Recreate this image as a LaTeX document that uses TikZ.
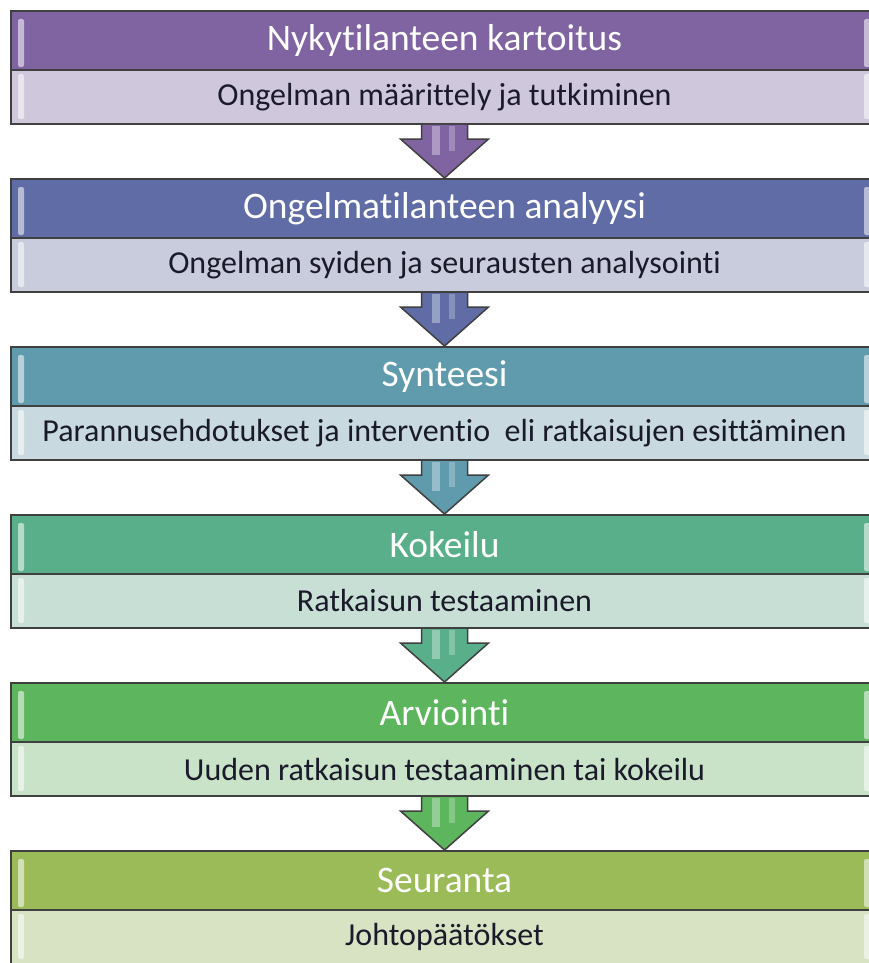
\documentclass[tikz,border=0pt]{standalone}
\usepackage{fontspec}
\setmainfont{Carlito}[Ligatures={NoCommon,NoContextual,NoRare}]
\usetikzlibrary{calc}

\definecolor{headA}{HTML}{8064A2}
\definecolor{subA}{HTML}{CFC7DC}
\definecolor{headB}{HTML}{5F6CA5}
\definecolor{subB}{HTML}{C9CCDC}
\definecolor{headC}{HTML}{5F9BAC}
\definecolor{subC}{HTML}{C8DADF}
\definecolor{headD}{HTML}{5AAF8B}
\definecolor{subD}{HTML}{C8DFD6}
\definecolor{headE}{HTML}{5DB55D}
\definecolor{subE}{HTML}{C9E3C9}
\definecolor{headF}{HTML}{9BBB59}
\definecolor{subF}{HTML}{D7E3C3}
\definecolor{barline}{HTML}{404040}
\definecolor{textdark}{HTML}{1A1A2A}

\tikzset{
    headbar/.style={draw=barline, line width=2pt, minimum width=867pt, minimum height=59pt,
        inner sep=0pt, text=white, font=\fontsize{37.5}{41}\selectfont},
    subbar/.style={draw=barline, line width=2pt, minimum width=867pt, minimum height=54pt,
        inner sep=0pt, text=textdark, font=\fontsize{32}{35}\selectfont},
    glint/.style={fill=white, fill opacity=0.55, draw=none, rounded corners=2pt},
    blockarrow/.style={draw=barline, line width=1.5pt, line join=miter}
}

\begin{document}
\begin{tikzpicture}[x=1pt, y=-1pt]
    \useasboundingbox (0,0) rectangle (868,963);
    \fill[white] (0,0) rectangle (868,963);

    % stages
    \foreach \i/\hc/\sc/\htext/\stext in {
        1/headA/subA/{Nykytilanteen kartoitus}/{Ongelman määrittely ja tutkiminen},
        2/headB/subB/{Ongelmatilanteen analyysi}/{Ongelman syiden ja seurausten analysointi},
        3/headC/subC/{Synteesi}/{Parannusehdotukset ja interventio~ eli ratkaisujen esittäminen},
        4/headD/subD/{Kokeilu}/{Ratkaisun testaaminen},
        5/headE/subE/{Arviointi}/{Uuden ratkaisun testaaminen tai kokeilu},
        6/headF/subF/{Seuranta}/{Johtopäätökset}} {
        \pgfmathsetmacro\t{11+168*(\i-1)}
        \node[headbar, fill=\hc] (h\i) at (444.5,\t+29.5) {\htext};
        \node[subbar, fill=\sc] (s\i) at (444.5,\t+86) {\stext};
        \fill[glint] (18,\t+8) rectangle (24,\t+56);
        \fill[glint] (18,\t+63) rectangle (24,\t+108);
        \fill[glint] (864,\t+8) rectangle (871,\t+56);
        \fill[glint] (864,\t+63) rectangle (871,\t+108);
    }

    % arrows between stages
    \foreach \i/\j/\c in {1/2/headA, 2/3/headB, 3/4/headC, 4/5/headD, 5/6/headE} {
        \draw[blockarrow, fill=\c] ($(s\i.south)+(-23,0)$) -- ($(s\i.south)+(-23,14)$)
            -- ($(s\i.south)+(-44,14)$) -- (h\j.north) -- ($(s\i.south)+(44,14)$)
            -- ($(s\i.south)+(23,14)$) -- ($(s\i.south)+(23,0)$);
        \fill[white, opacity=.35] ($(s\i.south)+(-13,1)$) rectangle ($(s\i.south)+(-5,30)$);
        \fill[white, opacity=.25] ($(s\i.south)+(4,1)$) rectangle ($(s\i.south)+(10,26)$);
    }
\end{tikzpicture}
\end{document}
